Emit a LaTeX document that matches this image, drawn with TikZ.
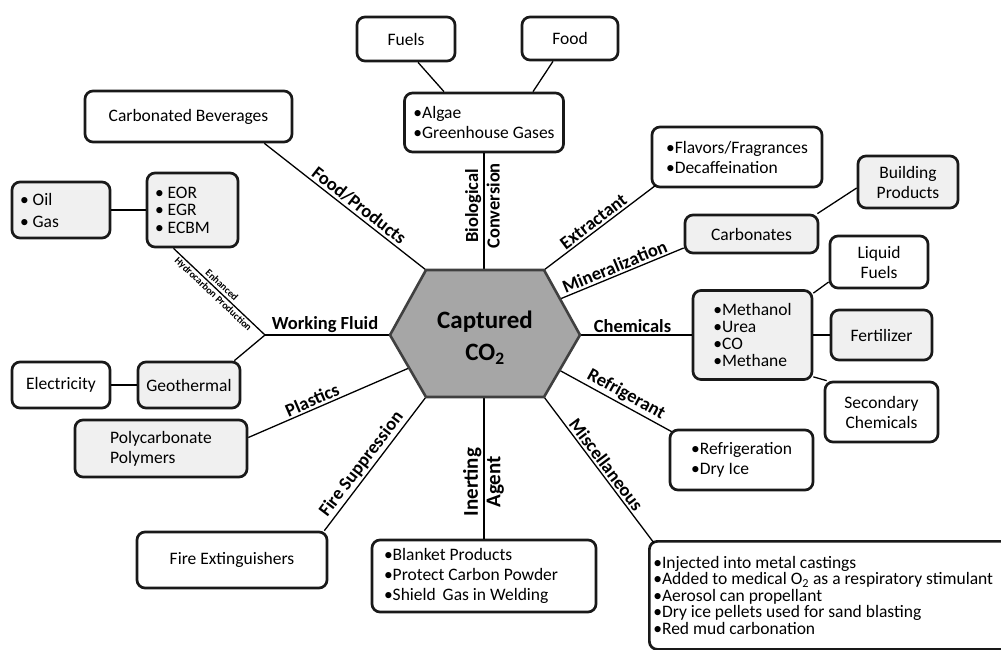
\documentclass[tikz,border=0pt]{standalone}
\usepackage{fontspec}
\setmainfont{Carlito}
\begin{document}
\begin{tikzpicture}[x=1pt,y=-1pt,
    box/.style={draw=black!90,line width=2.7pt,rounded corners=8pt,fill=white,
      align=left,inner sep=4pt,font=\fontsize{17.5}{20}\selectfont},
    graybox/.style={box,fill=black!6},
    spoke/.style={line width=1.3pt},
    lbl/.style={font=\bfseries\fontsize{18.5}{20}\selectfont,inner sep=2pt}]
    \useasboundingbox (0,0) rectangle (1001,650);
    \clip (0,0) rectangle (1001,650);
    % hexagon corners and spoke roots
    \coordinate (hTL) at (426,270);
    \coordinate (hTR) at (544,270);
    \coordinate (hR) at (580,335);
    \coordinate (hBR) at (544,397);
    \coordinate (hBL) at (426,397);
    \coordinate (hL) at (390,335);
    \coordinate (sBio) at (484,270);
    \coordinate (sMin) at (560,299);
    \coordinate (sRefr) at (559,370);
    \coordinate (sInert) at (484,397);
    \coordinate (sPlas) at (409,368);
    \coordinate (jWF) at (265,335);
    % boxes
    \node[box,minimum width=207pt,minimum height=51pt] (bev) at (188.5,116.5) {Carbonated Beverages};
    \node[box,minimum width=98pt,minimum height=44pt] (fuels) at (406,39) {Fuels};
    \node[box,minimum width=96pt,minimum height=43pt] (food) at (570,38.5) {Food};
    \node[box,minimum width=159pt,minimum height=59pt] (algae) at (484,122.5) {•Algae\\•Greenhouse Gases};
    \node[box,minimum width=170pt,minimum height=60pt] (flav) at (737,157) {•Flavors/Fragrances\\•Decaffeination};
    \node[graybox,minimum width=133pt,minimum height=38pt] (carb) at (751.5,234) {Carbonates};
    \node[graybox,align=center,minimum width=100pt,minimum height=52pt] (build) at (908,182) {Building\\Products};
    \node[graybox,minimum width=119pt,minimum height=89pt,font=\fontsize{17.5}{16.8}\selectfont] (chem) at (752.5,335) {•Methanol\\•Urea\\•CO\\•Methane};
    \node[box,align=center,minimum width=98pt,minimum height=52pt] (liq) at (879,262) {Liquid\\Fuels};
    \node[graybox,minimum width=101pt,minimum height=50pt] (fert) at (881.5,335) {Fertilizer};
    \node[box,align=center,minimum width=113pt,minimum height=60pt] (sec) at (881.5,412) {Secondary\\Chemicals};
    \node[box,minimum width=143pt,minimum height=60pt] (refr) at (741.5,460) {•Refrigeration\\•Dry Ice};
    \node[box,align=flush left,anchor=north west,text width=380pt,minimum height=108pt,font=\fontsize{17.5}{16.5}\selectfont] (misc) at (648,540)
      {•Injected into metal castings\\•Added to medical O\textsubscript{2} as a respiratory stimulant\\•Aerosol can propellant\\•Dry ice pellets used for sand blasting\\•Red mud carbonation};
    \node[box,align=flush left,text width=200pt,inner xsep=12pt,minimum height=72pt] (inert) at (484,576) {•Blanket Products\\•Protect Carbon Powder\\•Shield\,\ Gas in Welding};
    \node[box,minimum width=190pt,minimum height=56pt] (fire) at (232,560) {Fire Extinguishers};
    \node[graybox,minimum width=172pt,minimum height=57pt] (poly) at (161,448.5) {Polycarbonate\\Polymers};
    \node[graybox,align=flush left,text width=75pt,inner xsep=8pt,minimum height=74pt,font=\fontsize{17.5}{17.5}\selectfont] (eor) at (192.5,210) {• EOR\\• EGR\\• ECBM};
    \node[graybox,align=flush left,text width=82pt,inner xsep=8pt,minimum height=56pt,font=\fontsize{17.5}{22}\selectfont] (oil) at (61,210) {• Oil\\• Gas};
    \node[graybox,minimum width=102pt,minimum height=46pt] (geo) at (189,385) {Geothermal};
    \node[box,minimum width=98pt,minimum height=46pt] (elec) at (61,385) {Electricity};
    % spokes and links
    \draw[spoke] ([xshift=-29pt]bev.south east) -- (hTL) node[lbl,sloped,pos=.55,above] (lFood) {Food/Products};
    \draw[spoke] (sBio) -- (algae.south)
      node[lbl,pos=.55,rotate=90,anchor=south] (lBio) {Biological}
      node[lbl,pos=.55,rotate=90,anchor=north] (lConv) {Conversion};
    \draw[spoke] ([xshift=12pt]fuels.south) -- ([xshift=-40pt]algae.north);
    \draw[spoke] ([xshift=-17pt]food.south) -- ([xshift=49pt]algae.north);
    \draw[spoke] (hTR) -- ([shift={(5,-3)}]flav.south west) node[lbl,sloped,pos=.49,above] (lExtr) {Extractant};
    \draw[spoke] (sMin) -- ([yshift=-14pt]carb.west) node[lbl,sloped,pos=.47,above] (lMin) {Mineralization};
    \draw[spoke] ([xshift=-2pt]carb.north east) -- ([yshift=-6pt]build.west);
    \draw[spoke] (hR) -- (chem.west) node[lbl,pos=.47,above] (lChem) {Chemicals};
    \draw[spoke] ([yshift=-4pt]chem.north east) -- ([yshift=-20pt]liq.west);
    \draw[spoke] (chem.east) -- (fert.west);
    \draw[spoke] ([yshift=4pt]chem.south east) -- ([xshift=3pt]sec.north west);
    \draw[spoke] (sRefr) -- ([shift={(3,3)}]refr.north west) node[lbl,sloped,pos=.55,above] (lRefr) {Refrigerant};
    \draw[spoke] (hBR) -- ([shift={(6,3)}]misc.north west) node[lbl,sloped,pos=.5,above] (lMisc) {Miscellaneous};
    \draw[spoke] (sInert) -- (inert.north)
      node[lbl,font=\bfseries\fontsize{21}{22}\selectfont,pos=.6,rotate=90,anchor=south] (lInert) {Inerting}
      node[lbl,font=\bfseries\fontsize{21}{22}\selectfont,pos=.6,rotate=90,anchor=north] (lAgent) {Agent};
    \draw[spoke] ([xshift=-4pt]fire.north east) -- (hBL) node[lbl,sloped,pos=.45,above] (lFire) {Fire Suppression};
    \draw[spoke] ([yshift=11pt]poly.east) -- (sPlas) node[lbl,sloped,pos=.42,above] (lPlas) {Plastics};
    \draw[spoke] (jWF) -- (hL) node[lbl,pos=.48,above] (lWork) {Working Fluid};
    \draw[spoke] ([xshift=-19pt]eor.south) -- (jWF)
      node[lbl,font=\bfseries\fontsize{10}{11}\selectfont,inner sep=2.5pt,sloped,pos=.48,above] (lEnh) {Enhanced}
      node[lbl,font=\bfseries\fontsize{10}{11}\selectfont,inner sep=1.5pt,sloped,pos=.48,below] (lHyd) {Hydrocarbon Production};
    \draw[spoke] (jWF) -- ([xshift=-7pt]geo.north east);
    \draw[spoke] (oil.east) -- (eor.west);
    \draw[spoke] (elec.east) -- (geo.west);
    % centre
    \draw[fill=black!35,draw=black!75,line width=2.6pt,line join=round] (hTL) -- (hTR) -- (hR) -- (hBR) -- (hBL) -- (hL) -- cycle;
    \node[font=\bfseries\fontsize{25}{32}\selectfont,align=center] (hub) at (485,338) {Captured\\CO\textsubscript{2}};
\end{tikzpicture}
\end{document}
